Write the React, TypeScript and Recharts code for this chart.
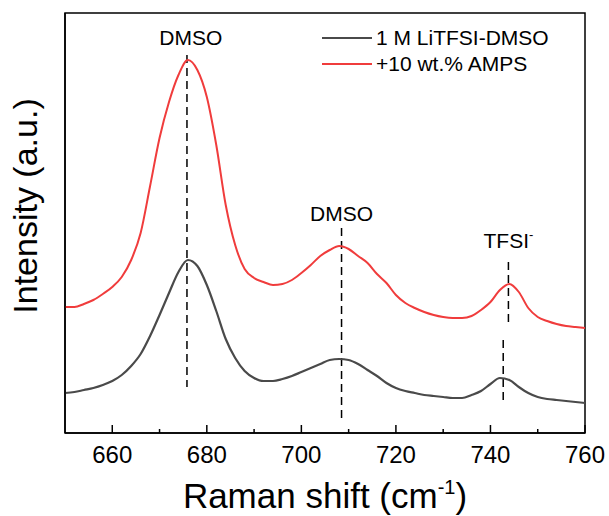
import * as React from 'react';
import {
  LineChart,
  Line,
  XAxis,
  YAxis,
  Legend,
  ReferenceLine,
  ReferenceArea,
  ReferenceDot,
} from 'recharts';

// Raman shift (cm-1), sampled every 2 cm-1
const shift = [
  650, 652, 654, 656, 658, 660, 662, 664, 666, 668, 670, 672, 674, 676, 678, 680,
  682, 684, 686, 688, 690, 692, 694, 696, 698, 700, 702, 704, 706, 708, 710, 712,
  714, 716, 718, 720, 722, 724, 726, 728, 730, 732, 734, 736, 738, 740, 742, 744,
  746, 748, 750, 752, 754, 756, 758, 760,
];

// 1 M LiTFSI-DMSO (a.u.)
const baseIntensity = [
  40, 41, 43, 45, 48, 52, 58, 67, 79, 97, 118, 140, 161, 173, 167, 148,
  122, 94, 75, 62, 55, 52, 52, 54, 57, 61, 65, 69, 73, 74, 73, 69,
  63, 57, 50, 45, 42, 40, 38, 37, 36, 35, 35, 38, 42, 49, 55, 53,
  46, 40, 36, 34, 33, 32, 31, 30,
];

// +10 wt.% AMPS (a.u., offset)
const ampsIntensity = [
  126, 126, 129, 133, 139, 146, 156, 173, 200, 247, 295, 331, 358, 373, 363, 336,
  288, 228, 188, 164, 155, 151, 148, 149, 153, 160, 168, 177, 183, 187, 184, 177,
  170, 159, 150, 138, 130, 125, 121, 118, 116, 115, 115, 117, 123, 131, 143, 149,
  141, 125, 116, 112, 109, 107, 106, 105,
];

const majorTicks = [660, 680, 700, 720, 740, 760];
const minorTicks = [670, 690, 710, 730, 750];

// peak markers: position and vertical extent of each dashed guide
const markerShift = [675.8, 708.5, 743.8, 742.7];
const markerTop = [378, 205, 171, 93];
const markerBottom = [46, 15, 108, 28];

const peakNames = ['DMSO', 'DMSO', 'TFSI'];
const peakShift = [676.6, 708.5, 743.8];
const peakLevel = [388, 212, 185];

const seriesOrder = ['base', 'amps'];

const rows = shift.map((s, i) => ({
  shift: s,
  base: baseIntensity[i],
  amps: ampsIntensity[i],
}));

const FONT = '"Liberation Sans", Arial, Helvetica, sans-serif';

const RamanTick = (props: any) => {
  const { x, y, payload } = props;
  const major = majorTicks.includes(payload.value);
  return (
    <g>
      <line x1={x} x2={x} y1={y} y2={y - (major ? 8 : 4)} stroke="#000" strokeWidth={1.5} />
      {major && (
        <text x={x} y={y + 30} textAnchor="middle" fontSize={24} fill="#000" fontFamily={FONT}>
          {payload.value}
        </text>
      )}
    </g>
  );
};

const SeriesKey = (props: any) => {
  const items = [...(props.payload || [])].sort(
    (a: any, b: any) => seriesOrder.indexOf(a.dataKey) - seriesOrder.indexOf(b.dataKey)
  );
  return (
    <div style={{ fontFamily: FONT, fontSize: 21, color: '#000' }}>
      {items.map((item: any) => (
        <div key={item.value} style={{ display: 'flex', alignItems: 'center', height: 26 }}>
          <span
            style={{
              display: 'inline-block',
              width: 50,
              height: 0,
              borderTop: `2px solid ${item.color}`,
              marginRight: 4,
            }}
          />
          <span>{item.value}</span>
        </div>
      ))}
    </div>
  );
};

export default function App() {
  return (
    <div style={{ position: 'absolute', left: 0, top: 0, background: '#fff' }}>
      <LineChart
        width={609}
        height={516}
        data={rows}
        margin={{ top: 13, right: 24, bottom: 0, left: 0 }}
        style={{ fontFamily: FONT }}
      >
        <ReferenceArea x1={650} x2={760} y1={0} y2={420} fill="none" stroke="#000" strokeWidth={1.5} />
        <XAxis
          dataKey="shift"
          type="number"
          domain={[650, 760]}
          ticks={[...majorTicks, ...minorTicks].sort((a, b) => a - b)}
          interval={0}
          tickSize={0}
          tickMargin={0}
          tickLine={false}
          tick={<RamanTick />}
          height={83}
          axisLine={{ stroke: '#000', strokeWidth: 1.5 }}
          allowDataOverflow
          label={{
            content: (p: any) => {
              const vb = p.viewBox || { x: 65, width: 520 };
              return (
                <text x={vb.x + vb.width / 2} y={508} textAnchor="middle" fontSize={35} fill="#000" fontFamily={FONT}>
                  Raman shift (cm
                  <tspan dy={-14} fontSize={20}>-1</tspan>
                  <tspan dy={14}>)</tspan>
                </text>
              );
            },
          }}
        />
        <YAxis
          type="number"
          domain={[0, 420]}
          width={65}
          tick={false}
          tickLine={false}
          axisLine={{ stroke: '#000', strokeWidth: 1.5 }}
          allowDataOverflow
          label={{
            content: () => (
              <text
                transform="translate(37, 206) rotate(-90)"
                textAnchor="middle"
                fontSize={34}
                fill="#000"
                fontFamily={FONT}
              >
                Intensity (a.u.)
              </text>
            ),
          }}
        />
        <Legend
          layout="vertical"
          verticalAlign="middle"
          align="center"
          content={<SeriesKey />}
          wrapperStyle={{ left: 322, top: 25, width: 'auto', transform: 'none' }}
        />
        {markerShift.map((s, i) => (
          <ReferenceLine
            key={`m${i}`}
            segment={[
              { x: s, y: markerTop[i] },
              { x: s, y: markerBottom[i] },
            ]}
            stroke="#000"
            strokeWidth={1.5}
            strokeDasharray="8 5"
          />
        ))}
        {peakNames.map((name, i) => (
          <ReferenceDot
            key={`p${i}`}
            x={peakShift[i]}
            y={peakLevel[i]}
            r={0}
            shape={(p: any) => (
              <text x={p.cx} y={p.cy} textAnchor="middle" fontSize={21} fill="#000" fontFamily={FONT}>
                {name}
                {name === 'TFSI' && (
                  <tspan dy={-9} fontSize={13}>-</tspan>
                )}
              </text>
            )}
          />
        ))}
        <Line
          type="monotone"
          dataKey="base"
          name="1 M LiTFSI-DMSO"
          stroke="#4a4a4a"
          strokeWidth={2.2}
          dot={false}
          isAnimationActive={false}
        />
        <Line
          type="monotone"
          dataKey="amps"
          name="+10 wt.% AMPS"
          stroke="#f03c3c"
          strokeWidth={2}
          dot={false}
          isAnimationActive={false}
        />
      </LineChart>
    </div>
  );
}
